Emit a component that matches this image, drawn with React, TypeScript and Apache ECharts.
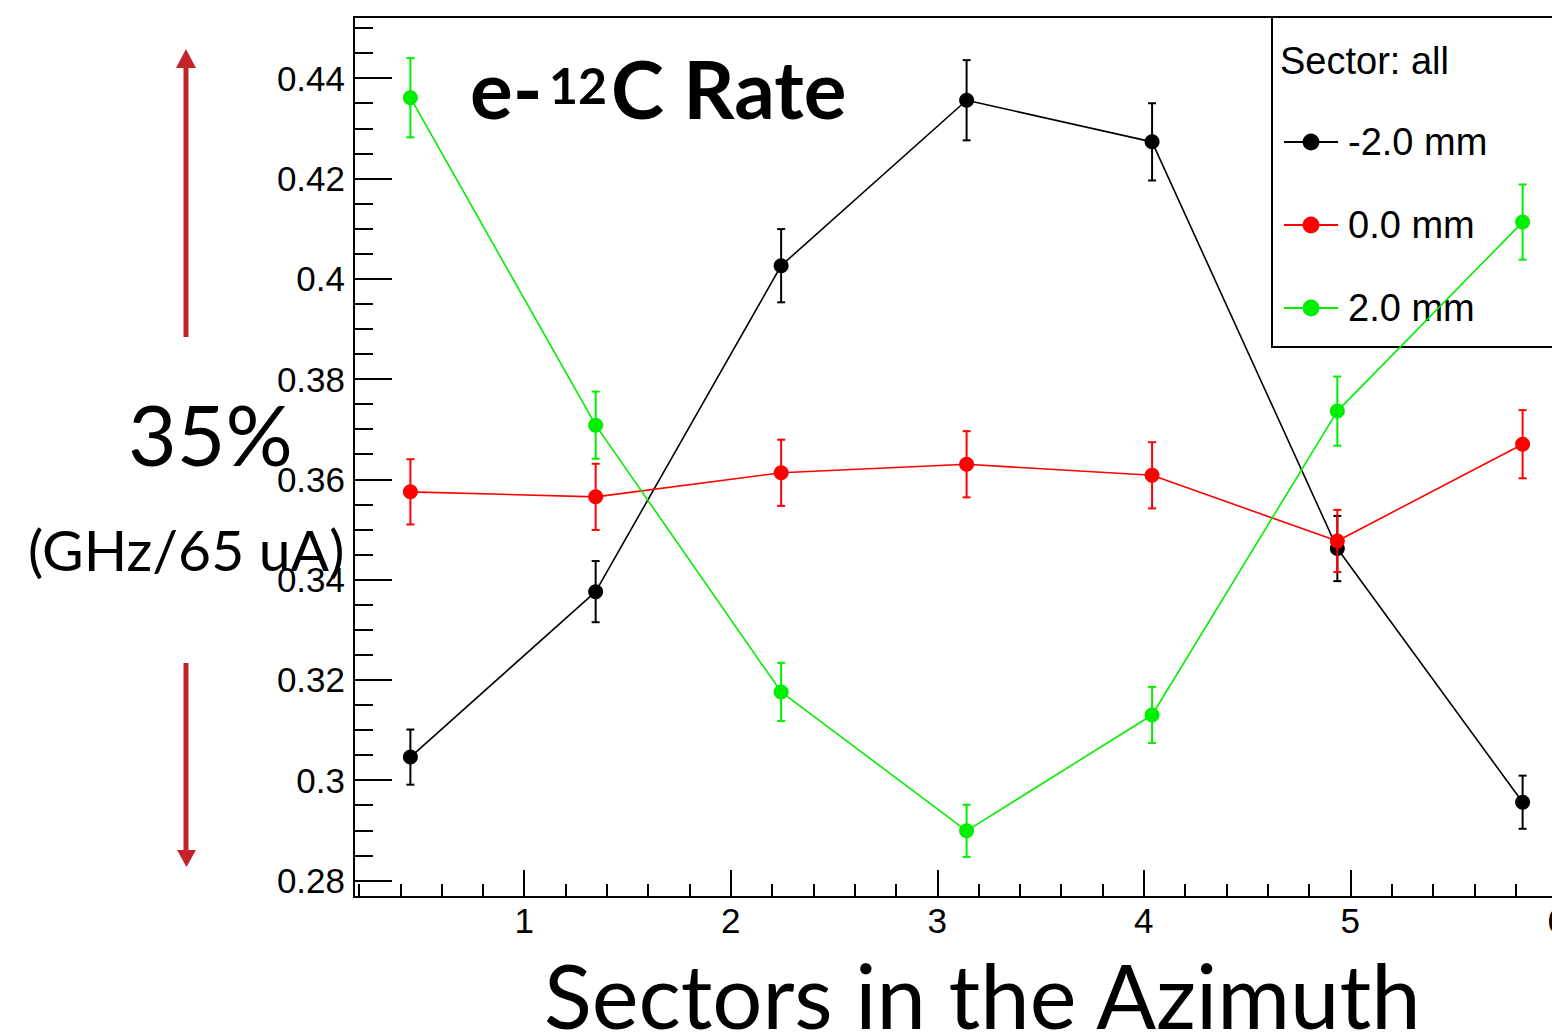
import React, { useEffect, useRef } from "react";
import * as echarts from "echarts";

// ---- data ----
const SECTOR_X = [0.449, 1.346, 2.244, 3.142, 4.04, 4.937, 5.834];
const SERIES_NAMES = ["-2.0 mm", "0.0 mm", "2.0 mm"];
const SERIES_COLORS = ["#000000", "#ff0000", "#00ee00"];
const MINUS2 = [0.3046, 0.3376, 0.4026, 0.4356, 0.4273, 0.3462, 0.2956];
const MINUS2_ERR = [0.0055, 0.0061, 0.0073, 0.008, 0.0077, 0.0065, 0.0053];
const ZERO = [0.3575, 0.3565, 0.3613, 0.363, 0.3608, 0.3477, 0.367];
const ZERO_ERR = [0.0065, 0.0066, 0.0066, 0.0066, 0.0066, 0.0062, 0.0068];
const PLUS2 = [0.4361, 0.3708, 0.3176, 0.2899, 0.313, 0.3736, 0.4113];
const PLUS2_ERR = [0.0079, 0.0067, 0.0058, 0.0052, 0.0056, 0.0069, 0.0075];
const X_RANGE = [0.176, 6.107];
const Y_RANGE = [0.2767, 0.4522];
const X_MAJOR = 1;
const X_MINOR = 0.2;
const Y_MAJOR = 0.02;
const Y_MINOR = 0.005;

const VALUES = [MINUS2, ZERO, PLUS2];
const ERRORS = [MINUS2_ERR, ZERO_ERR, PLUS2_ERR];

const TICK_FONT = "'Liberation Sans', Arial, Helvetica, sans-serif";
const SLIDE_FONT = "Lato, 'Open Sans', sans-serif";
const ARROW = "#c4232a";

export default function App() {
  const ref = useRef<HTMLDivElement>(null);
  useEffect(() => {
    if (!ref.current) return;
    const chart = echarts.init(ref.current, undefined, { renderer: "svg" });

    const lineSeries = SERIES_NAMES.map((name, s) => ({
      type: "line",
      name,
      data: SECTOR_X.map((x, i) => [x, VALUES[s][i]]),
      symbol: "circle",
      symbolSize: 15,
      showAllSymbol: true,
      lineStyle: { color: SERIES_COLORS[s], width: 1.6 },
      itemStyle: { color: SERIES_COLORS[s] },
      z: 3 + s,
    }));
    const errSeries = SERIES_NAMES.map((name, s) => ({
      type: "custom",
      name: name + " err",
      data: SECTOR_X.map((x, i) => [x, VALUES[s][i], ERRORS[s][i]]),
      encode: { x: 0, y: 1 },
      z: 3 + s,
      renderItem: (params: any, api: any) => {
        const x = api.value(0);
        const y = api.value(1);
        const e = api.value(2);
        const t = api.coord([x, y + e]);
        const b = api.coord([x, y - e]);
        const cap = 4;
        const st = { stroke: SERIES_COLORS[s], lineWidth: 2 };
        return {
          type: "group",
          children: [
            { type: "line", shape: { x1: t[0], y1: t[1], x2: b[0], y2: b[1] }, style: st },
            { type: "line", shape: { x1: t[0] - cap, y1: t[1], x2: t[0] + cap, y2: t[1] }, style: st },
            { type: "line", shape: { x1: b[0] - cap, y1: b[1], x2: b[0] + cap, y2: b[1] }, style: st },
          ],
        };
      },
    }));
    const series: any[] = [];
    for (let s = 0; s < 3; s++) {
      series.push(errSeries[s]);
      series.push(lineSeries[s]);
    }

    const txt = (text: string, x: number, y: number, size: number, weight: any, family: string, align = "left", color = "#000") => ({
      type: "text",
      x,
      y,
      z: 100,
      style: {
        text,
        fill: color,
        fontSize: size,
        fontWeight: weight,
        fontFamily: family,
        align,
        textAlign: align,
        verticalAlign: "middle",
        textVerticalAlign: "middle",
      },
    });

    chart.setOption({
      animation: false,
      backgroundColor: "#fff",
      grid: {
        left: 354,
        top: 17,
        right: 121,
        bottom: 137,
        show: true,
        borderColor: "#000",
        borderWidth: 2,
        backgroundColor: "transparent",
        outerBoundsMode: "none",
      },
      xAxis: [
        {
          type: "value",
          min: X_RANGE[0],
          max: X_RANGE[1],
          minInterval: X_MAJOR,
          maxInterval: X_MAJOR,
          position: "bottom",
          axisLine: { show: true, onZero: false, lineStyle: { color: "#000", width: 2 } },
          axisTick: { show: true, inside: true, length: 27, lineStyle: { color: "#000", width: 2 } },
          axisLabel: {
            showMinLabel: false,
            showMaxLabel: false,
            fontSize: 35,
            fontFamily: TICK_FONT,
            color: "#000",
            margin: 6,
          },
          splitLine: { show: false },
        },
        {
          type: "value",
          min: X_RANGE[0],
          max: X_RANGE[1],
          minInterval: X_MINOR,
          maxInterval: X_MINOR,
          position: "bottom",
          axisLine: { show: false, onZero: false },
          axisTick: { show: true, inside: true, length: 13, lineStyle: { color: "#000", width: 2 } },
          axisLabel: { show: false },
          splitLine: { show: false },
        },
      ],
      yAxis: [
        {
          type: "value",
          min: Y_RANGE[0],
          max: Y_RANGE[1],
          minInterval: Y_MAJOR,
          maxInterval: Y_MAJOR,
          position: "left",
          axisLine: { show: true, onZero: false, lineStyle: { color: "#000", width: 2 } },
          axisTick: { show: true, inside: true, length: 38, lineStyle: { color: "#000", width: 2 } },
          axisLabel: {
            showMinLabel: false,
            showMaxLabel: false,
            fontSize: 35,
            fontFamily: TICK_FONT,
            color: "#000",
            margin: 9,
          },
          splitLine: { show: false },
        },
        {
          type: "value",
          min: Y_RANGE[0],
          max: Y_RANGE[1],
          minInterval: Y_MINOR,
          maxInterval: Y_MINOR,
          position: "left",
          axisLine: { show: false, onZero: false },
          axisTick: { show: true, inside: true, length: 19, lineStyle: { color: "#000", width: 2 } },
          axisLabel: { show: false },
          splitLine: { show: false },
        },
      ],
      legend: {
        data: SERIES_NAMES,
        orient: "vertical",
        left: 1283,
        top: 123,
        padding: 0,
        itemWidth: 54,
        itemHeight: 21,
        itemGap: 45,
        selectedMode: false,
        lineStyle: { width: 2 },
        textStyle: { fontSize: 38, fontFamily: TICK_FONT, color: "#000", lineHeight: 36, padding: [0, 0, 0, 5] },
      },
      graphic: [
        {
          type: "rect",
          shape: { x: 1272, y: 17, width: 307, height: 330 },
          style: { fill: "none", stroke: "#000", lineWidth: 2 },
          z: 2,
        },
        txt("Sector: all", 1280, 61, 38, "normal", TICK_FONT),
        txt("e-", 470, 88, 80, "bold", SLIDE_FONT),
        txt("12", 549, 85, 50, "bold", SLIDE_FONT),
        txt("C Rate", 611, 88, 80, "bold", SLIDE_FONT),
        txt("35%", 128, 433, 84, "normal", SLIDE_FONT),
        txt("(GHz/65 uA)", 28, 549, 57, "normal", SLIDE_FONT),
        txt("Sectors in the Azimuth", 544, 995, 88.5, "normal", SLIDE_FONT),
        {
          type: "line",
          shape: { x1: 186, y1: 337, x2: 186, y2: 66 },
          style: { stroke: ARROW, lineWidth: 5 },
        },
        {
          type: "polygon",
          shape: { points: [[176, 68], [196, 68], [186, 49]] },
          style: { fill: ARROW },
        },
        {
          type: "line",
          shape: { x1: 186, y1: 663, x2: 186, y2: 852 },
          style: { stroke: ARROW, lineWidth: 5 },
        },
        {
          type: "polygon",
          shape: { points: [[177, 850], [196, 850], [186.5, 867]] },
          style: { fill: ARROW },
        },
      ],
      series,
    });
    return () => chart.dispose();
  }, []);
  return (
    <div
      style={{
        position: "fixed",
        left: 0,
        top: 0,
        width: 1552,
        height: 1034,
        overflow: "hidden",
        background: "#fff",
      }}
    >
      <div ref={ref} style={{ width: 1700, height: 1034 }} />
    </div>
  );
}
